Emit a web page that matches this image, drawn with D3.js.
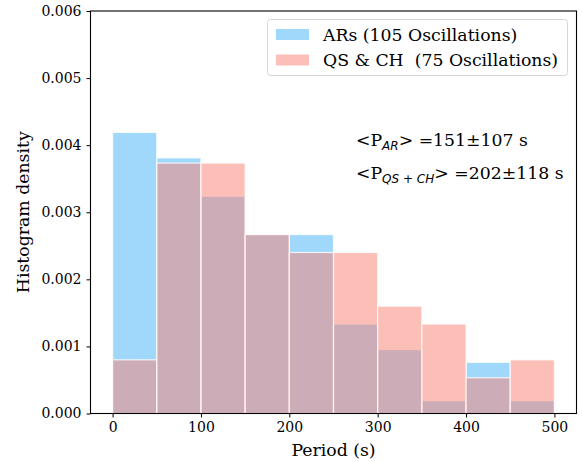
<!DOCTYPE html>
<html><head><meta charset="utf-8">
<script src="https://cdn.jsdelivr.net/npm/d3@7"></script>
<style>body{margin:0;background:#fff}svg{display:block}text{font-family:"DejaVu Serif",serif;fill:#000}</style>
</head><body><svg id="c" width="582" height="462"></svg>
<script>
const binEdges = [0,50,100,150,200,250,300,350,400,450,500];
const arDensity = [0.004190,0.003810,0.003238,0.002667,0.002667,0.001333,0.000952,0.000190,0.000762,0.000190];
const qsDensity = [0.000800,0.003733,0.003733,0.002667,0.002400,0.002400,0.001600,0.001333,0.000533,0.000800];
const xTicks = [0,100,200,300,400,500];
const yTicks = [0,0.001,0.002,0.003,0.004,0.005,0.006];
const legendLabels = ["ARs (105 Oscillations)","QS & CH  (75 Oscillations)"];

const svg = d3.select("#c");
const L=90.5, R=576.5, T=11, B=413.5;
const x = d3.scaleLinear().domain([-25,525]).range([L,R]);
const y = d3.scaleLinear().domain([0,0.006]).range([B,T]);

function bars(data, fill){
  svg.append("g").selectAll("rect").data(data).join("rect")
    .attr("x",(d,i)=>x(binEdges[i]))
    .attr("width",(d,i)=>x(binEdges[i+1])-x(binEdges[i]))
    .attr("y",d=>y(d))
    .attr("height",d=>y(0)-y(d))
    .attr("fill",fill).attr("stroke","rgba(255,255,255,0.8)").attr("stroke-width",1.2);
}
bars(arDensity,"rgba(135,206,250,0.8)");
bars(qsDensity,"rgba(250,128,114,0.5)");

const xa = svg.append("g").attr("transform",`translate(0,${B})`)
  .call(d3.axisBottom(x).tickValues(xTicks).tickSize(4).tickPadding(5).tickFormat(d3.format("d")));
const ya = svg.append("g").attr("transform",`translate(${L},0)`)
  .call(d3.axisLeft(y).tickValues(yTicks).tickSize(4).tickPadding(5).tickFormat(d3.format(".3f")));
[xa,ya].forEach(a=>{a.select(".domain").remove();a.selectAll("text").attr("font-family","DejaVu Serif").attr("font-size",14).attr("fill","#000");a.selectAll("line").attr("stroke","#000").attr("stroke-width",1);});
svg.append("rect").attr("x",L).attr("y",T).attr("width",R-L).attr("height",B-T).attr("fill","none").attr("stroke","#000").attr("stroke-width",1.1);

svg.append("text").attr("x",(L+R)/2).attr("y",456).attr("text-anchor","middle").attr("font-size",17.3).text("Period (s)");
svg.append("text").attr("transform",`translate(29,${(T+B)/2}) rotate(-90)`).attr("text-anchor","middle").attr("font-size",17.3).text("Histogram density");

// legend
const lg = svg.append("g");
lg.append("rect").attr("x",267.5).attr("y",19.5).attr("width",300).attr("height",56).attr("rx",3)
  .attr("fill","rgba(255,255,255,0.8)").attr("stroke","#d6d6d6");
const lc = ["rgba(135,206,250,0.8)","rgba(250,128,114,0.5)"];
legendLabels.forEach((t,i)=>{
  lg.append("rect").attr("x",276).attr("y",29+i*25.5).attr("width",33).attr("height",11).attr("fill",lc[i]);
  lg.append("text").attr("x",323).attr("y",40.5+i*25.5).attr("font-size",17.3).attr("xml:space","preserve").text(t);
});

// annotations
function ann(yy, sub, rest){
  const t = svg.append("text").attr("x",356).attr("y",yy).attr("font-size",17.3);
  t.append("tspan").text("<P");
  t.append("tspan").attr("font-family","DejaVu Sans").attr("font-style","italic").attr("font-size",12).attr("dy",4).text(sub);
  t.append("tspan").attr("dy",-4).text(rest);
}
ann(146,"AR","> =151±107 s");
ann(179,"QS + CH","> =202±118 s");
</script></body></html>
